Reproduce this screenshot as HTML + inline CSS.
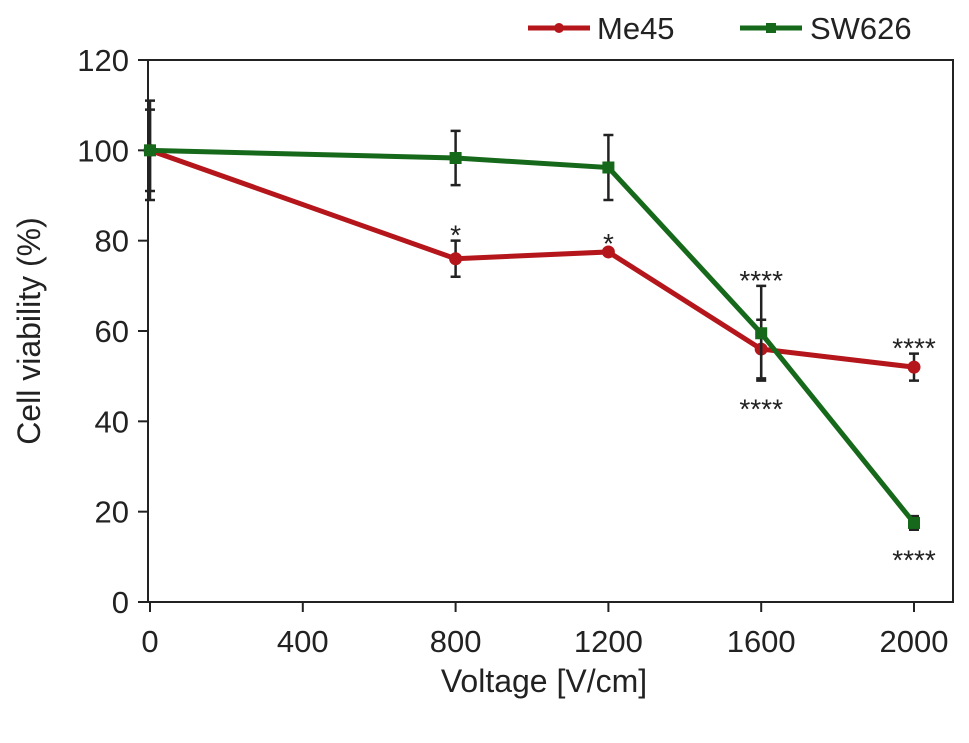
<!DOCTYPE html>
<html><head><meta charset="utf-8"><style>
body{margin:0;background:#fff;}
svg text{font-family:"Liberation Sans",Arial,sans-serif;fill:#222;}
</style></head><body>
<svg width="969" height="738">
<g id="axes"></g><g id="marks"></g>
</svg>
<script>
const xValues=[0,800,1200,1600,2000];
const me45=[100,76,77.5,56,52];
const me45Err=[9,4,0.6,6.5,3];
const sw626=[100,98.3,96.2,59.5,17.5];
const sw626Err=[11,6,7.2,10.5,1.5];
const xTicks=[0,400,800,1200,1600,2000];
const yTicks=[0,20,40,60,80,100,120];
const starsMe=["","*","*","****","****"];
const starsSw=["","","","****","****"];
const NS="http://www.w3.org/2000/svg";
const X0=150,X1=914,Y0=602,Y1=60;
const sx=v=>X0+(v/2000)*(X1-X0);
const sy=v=>Y0-(v/120)*(Y0-Y1);
function el(tag,attrs,parent){const e=document.createElementNS(NS,tag);for(const k in attrs)e.setAttribute(k,attrs[k]);parent.appendChild(e);return e;}
const ax=document.getElementById('axes'),mk=document.getElementById('marks');
const frame=el('rect',{x:148,y:Y1,width:953-148,height:Y0-Y1,fill:'none',stroke:'#222','stroke-width':2},ax);


yTicks.forEach(t=>{
  const l=el('line',{x1:138,x2:148,y1:sy(t),y2:sy(t),stroke:'#222','stroke-width':2},ax);
  
  
  const tx=el('text',{x:129,y:sy(t)+11,'text-anchor':'end','font-size':31},ax);tx.textContent=t;
  
  
});
xTicks.forEach(t=>{
  const l=el('line',{x1:sx(t),x2:sx(t),y1:Y0,y2:Y0+10,stroke:'#222','stroke-width':2},ax);
  
  
  const tx=el('text',{x:sx(t),y:Y0+50,'text-anchor':'middle','font-size':31},ax);tx.textContent=t;
  
  
});
const xt=el('text',{x:sx(1000)+12,y:692,'text-anchor':'middle','font-size':32},ax);xt.textContent='Voltage [V/cm]';


const yt=el('text',{x:0,y:0,'text-anchor':'middle','font-size':32,transform:`translate(40,${sy(60)}) rotate(-90)`},ax);yt.textContent='Cell viability (%)';


function series(vals,errs,color,shape,name){
  const g=el('g',{},mk);
  
  
  vals.forEach((v,i)=>{
    const x=sx(xValues[i]),a=sy(v+errs[i]),b=sy(v-errs[i]);
    const e=el('path',{d:`M${x},${a}V${b}M${x-5},${a}H${x+5}M${x-5},${b}H${x+5}`,stroke:'#222','stroke-width':2.5,fill:'none'},g);
    
    
  });
  const p=el('polyline',{points:vals.map((v,i)=>sx(xValues[i])+','+sy(v)).join(' '),fill:'none',stroke:color,'stroke-width':5},g);
  
  
  vals.forEach((v,i)=>{
    const x=sx(xValues[i]),y=sy(v);
    const m=shape==='c'?el('circle',{cx:x,cy:y,r:6.5,fill:color},g):el('rect',{x:x-6,y:y-6,width:12,height:12,fill:color},g);
    
    
  });
}
series(me45,me45Err,'#b5161b','c','me45');
series(sw626,sw626Err,'#16691a','s','sw626');
function stars(arr,vals,errs,above){
  arr.forEach((s,i)=>{if(!s)return;
    const y=above?sy(vals[i]+errs[i])-6:sy(vals[i]-errs[i])+30;
    const t=el('text',{x:sx(xValues[i]),y:y+10,'text-anchor':'middle','font-size':28},mk);t.textContent=s;
    
    
  });
}
stars(starsMe.map((s,i)=>i===3?'':s),me45,me45Err,true);
stars(starsSw.map((s,i)=>i===3?s:''),sw626,sw626Err,true);
stars(starsMe.map((s,i)=>i===3?s:''),me45,me45Err,false);
stars(starsSw.map((s,i)=>i===4?s:''),sw626,sw626Err,false);
const lg=el('g',{},ax);


[['Me45','#b5161b','c',528,597],['SW626','#16691a','s',740,810]].forEach(([n,c,s,x,tx])=>{
  el('line',{x1:x,x2:x+62,y1:28,y2:28,stroke:c,'stroke-width':5},lg);
  if(s==='c')el('circle',{cx:x+31,cy:28,r:5,fill:c},lg);else el('rect',{x:x+26,y:23,width:10,height:10,fill:c},lg);
  const t=el('text',{x:tx,y:39,'font-size':31},lg);t.textContent=n;
  
  
});
</script>
</body></html>
